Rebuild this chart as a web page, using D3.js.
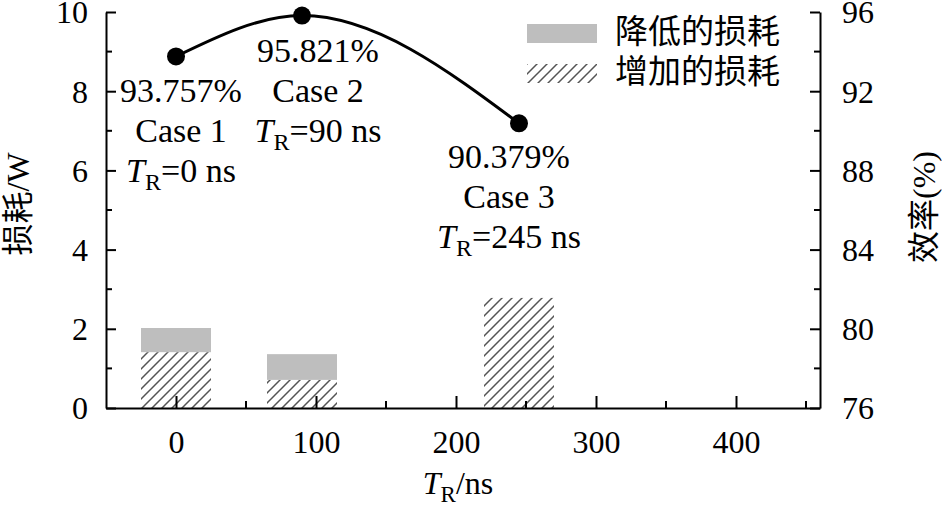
<!DOCTYPE html>
<html>
<head>
<meta charset="utf-8">
<script src="https://cdn.jsdelivr.net/npm/d3@7"></script>
<style>
  body { margin: 0; background: #fff; }
  svg text { font-family: "Liberation Serif", "Times New Roman", "DejaVu Serif", serif; fill: #000; }
  svg text.cjk { font-family: "Liberation Serif", "Noto Sans CJK SC", serif; }
</style>
</head>
<body>
<div class="chart"></div>
<script>
// Chart data
var caseNames = ["Case 1", "Case 2", "Case 3"];
var caseTR = [0, 90, 245];                 // ns
var addedLoss = [1.41, 0.71, 2.78];        // W, hatched part
var reducedLoss = [0.61, 0.65, 0];         // W, grey part on top
var efficiency = [93.757, 95.821, 90.379]; // %
var xTicks = [0, 100, 200, 300, 400];
var lossTicks = [0, 2, 4, 6, 8, 10];
var effTicks = [76, 80, 84, 88, 92, 96];
var legendNames = ["降低的损耗", "增加的损耗"];

// Label placement relative to each point (px)
var labelShift = [[5, 46], [16, 46], [-10, 45]];

var width = 942, height = 509;
var margin = { left: 106, right: 122, top: 12, bottom: 101 };
var fs = 32;
var serif = '"Liberation Serif", "Times New Roman", "DejaVu Serif", serif';

var svg = d3.select(".chart")
  .append("svg")
    .attr("width", width)
    .attr("height", height);

var x = d3.scaleLinear().domain([-50, 460]).range([margin.left, width - margin.right]);
var yLoss = d3.scaleLinear().domain([0, 10]).range([height - margin.bottom, margin.top]);
var yEff = d3.scaleLinear().domain([76, 96]).range([height - margin.bottom, margin.top]);

// Hatch pattern for the increased loss
var defs = svg.append("defs");
var hatch = defs.append("pattern")
  .attr("id", "hatch")
  .attr("patternUnits", "userSpaceOnUse")
  .attr("width", 10)
  .attr("height", 10);
hatch.append("path")
  .attr("d", "M-2,2 L2,-2 M0,10 L10,0 M8,12 L12,8")
  .style("stroke", "#555")
  .style("stroke-width", 1.5);

// Bars
var barHalf = 25;
var bars = svg.append("g");
caseTR.forEach(function(t, i) {
  bars.append("rect")
    .attr("x", x(t - barHalf))
    .attr("width", x(t + barHalf) - x(t - barHalf))
    .attr("y", yLoss(addedLoss[i]))
    .attr("height", yLoss(0) - yLoss(addedLoss[i]))
    .style("fill", "url(#hatch)");
  if (reducedLoss[i] > 0) {
    bars.append("rect")
      .attr("x", x(t - barHalf))
      .attr("width", x(t + barHalf) - x(t - barHalf))
      .attr("y", yLoss(addedLoss[i] + reducedLoss[i]))
      .attr("height", yLoss(addedLoss[i]) - yLoss(addedLoss[i] + reducedLoss[i]))
      .style("fill", "#bebebe");
  }
});

// Axes
function styleAxis(g) {
  g.attr("font-family", null).attr("font-size", null);
  g.select(".domain").style("stroke", "#000").style("stroke-width", 2);
  g.selectAll(".tick line").style("stroke", "#000").style("stroke-width", 2);
  g.selectAll("text").style("font-size", fs + "px").style("font-family", serif);
}

function minorTicks(g, scale, vals, orient, len) {
  vals.forEach(function(v) {
    var p = scale(v);
    var ln = g.append("line").style("stroke", "#000").style("stroke-width", 2);
    if (orient === "bottom") ln.attr("x1", p).attr("x2", p).attr("y1", 0).attr("y2", -len);
    else if (orient === "left") ln.attr("y1", p).attr("y2", p).attr("x1", 0).attr("x2", len);
    else ln.attr("y1", p).attr("y2", p).attr("x1", 0).attr("x2", -len);
  });
}

var xAxis = svg.append("g")
  .attr("transform", "translate(0," + yLoss(0) + ")")
  .call(d3.axisBottom(x).tickValues(xTicks).tickSize(-12).tickPadding(22).tickSizeOuter(0));
styleAxis(xAxis);
minorTicks(xAxis, x, [50, 150, 250, 350, 450], "bottom", 7);

var yAxisL = svg.append("g")
  .attr("transform", "translate(" + x(-50) + ",0)")
  .call(d3.axisLeft(yLoss).tickValues(lossTicks).tickSize(-10).tickPadding(18).tickSizeOuter(0));
styleAxis(yAxisL);
yAxisL.selectAll(".tick text").attr("dy", "0.34em");
minorTicks(yAxisL, yLoss, [1, 3, 5, 7, 9], "left", 6);

var yAxisR = svg.append("g")
  .attr("transform", "translate(" + x(460) + ",0)")
  .call(d3.axisRight(yEff).tickValues(effTicks).tickSize(-10).tickPadding(22).tickSizeOuter(0));
styleAxis(yAxisR);
yAxisR.selectAll(".tick text").attr("dy", "0.34em");
minorTicks(yAxisR, yEff, [78, 82, 86, 90, 94], "right", 6);

// Efficiency curve
var pts = caseTR.map(function(t, i) { return [x(t), yEff(efficiency[i])]; });
svg.append("path")
  .attr("d", d3.line().curve(d3.curveMonotoneX)(pts))
  .style("fill", "none")
  .style("stroke", "#000")
  .style("stroke-width", 3);

svg.selectAll("circle.pt")
  .data(pts)
  .enter()
  .append("circle")
    .attr("cx", function(d) { return d[0]; })
    .attr("cy", function(d) { return d[1]; })
    .attr("r", 9)
    .style("fill", "#000");

// Point labels
caseTR.forEach(function(t, i) {
  var cx = pts[i][0] + labelShift[i][0];
  var cy = pts[i][1] + labelShift[i][1];
  var g = svg.append("g").style("font-size", "34px").attr("text-anchor", "middle");
  g.append("text").attr("x", cx).attr("y", cy).text(d3.format(".3f")(efficiency[i]) + "%");
  g.append("text").attr("x", cx).attr("y", cy + 40).text(caseNames[i]);
  var tr = g.append("text").attr("x", cx).attr("y", cy + 80);
  tr.append("tspan").style("font-style", "italic").text("T");
  tr.append("tspan").attr("dy", 8).style("font-size", "24px").text("R");
  tr.append("tspan").attr("dy", -8).text("=" + t + " ns");
});

// Axis titles
var xt = svg.append("text")
  .attr("x", x(200) + 2)
  .attr("y", 494)
  .attr("text-anchor", "middle")
  .style("font-size", fs + "px");
xt.append("tspan").style("font-style", "italic").text("T");
xt.append("tspan").attr("dy", 8).style("font-size", "23px").text("R");
xt.append("tspan").attr("dy", -8).text("/ns");

svg.append("text")
  .attr("class", "cjk")
  .attr("transform", "translate(18,204) rotate(-90)")
  .attr("text-anchor", "middle")
  .attr("dominant-baseline", "central")
  .style("font-size", fs + "px")
  .text("损耗/W");

svg.append("text")
  .attr("class", "cjk")
  .attr("transform", "translate(924,207) rotate(-90)")
  .attr("text-anchor", "middle")
  .attr("dominant-baseline", "central")
  .style("font-size", fs + "px")
  .text("效率(%)");

// Legend
var legend = svg.append("g").attr("transform", "translate(527,24)");
legendNames.forEach(function(name, i) {
  legend.append("rect")
    .attr("x", 0)
    .attr("y", i * 40)
    .attr("width", 70)
    .attr("height", 19)
    .style("fill", i === 0 ? "#bebebe" : "url(#hatch)");
  legend.append("text")
    .attr("class", "cjk")
    .attr("x", 88)
    .attr("y", i * 40 + 8)
    .attr("dominant-baseline", "central")
    .style("font-size", "33px")
    .text(name);
});
</script>
</body>
</html>
